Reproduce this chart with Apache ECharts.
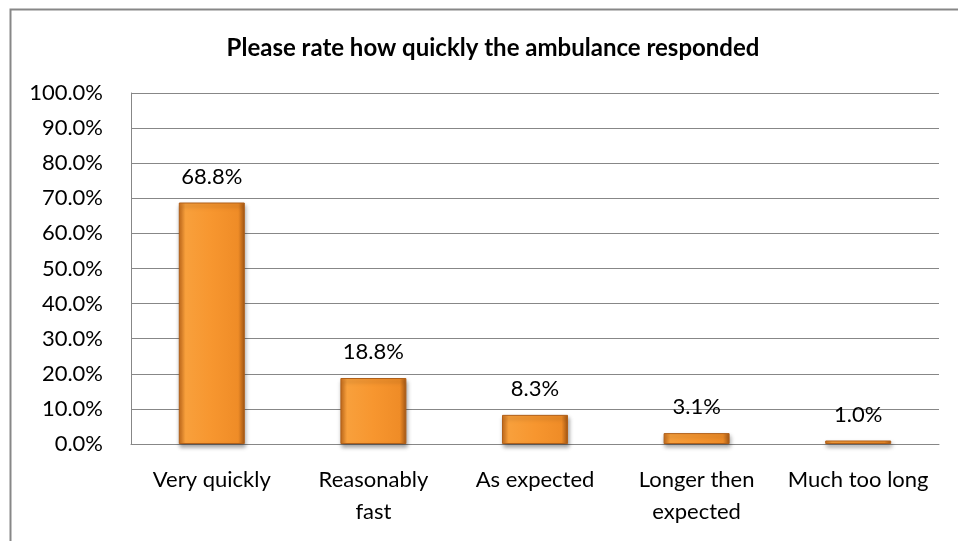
<!DOCTYPE html>
<html>
<head>
<meta charset="utf-8">
<script src="https://cdn.jsdelivr.net/npm/echarts@6/dist/echarts.min.js"></script>
<style>
html,body{margin:0;padding:0;background:#fff;}
#c{width:958px;height:541px;}
</style>
</head>
<body>
<div id="c"></div>
<script>
const titleText = 'Please rate how quickly the ambulance responded';
const categories = ['Very quickly', 'Reasonably\nfast', 'As expected', 'Longer then\nexpected', 'Much too long'];
const values = [68.8, 18.8, 8.3, 3.1, 1.0];
const yMin = 0, yMax = 100, yStep = 10;

const FONT = 'Lato, "Open Sans", sans-serif';
const chart = echarts.init(document.getElementById('c'), null, {renderer: 'canvas'});
chart.setOption({
  animation: false,
  backgroundColor: '#fff',
  graphic: [{
    type: 'rect', left: 8, top: 7,
    shape: {width: 960, height: 540},
    style: {fill: 'none', stroke: '#878787', lineWidth: 2}, silent: true, z: -1
  }],
  title: {
    text: titleText, left: 488, top: 31, textAlign: 'center',
    textStyle: {fontFamily: FONT, fontSize: 24, fontWeight: 'bold', color: '#000'}
  },
  grid: {left: 131, right: 19, top: 93, bottom: 97, containLabel: false},
  xAxis: {
    type: 'category', data: categories,
    axisLine: {lineStyle: {color: '#878787', width: 1}},
    axisTick: {show: false},
    axisLabel: {fontFamily: FONT, fontSize: 22, color: '#000', margin: 20, lineHeight: 32, interval: 0}
  },
  yAxis: {
    type: 'value', min: yMin, max: yMax, interval: yStep,
    axisLine: {show: true, lineStyle: {color: '#878787', width: 1}},
    axisTick: {show: false},
    splitLine: {lineStyle: {color: '#878787', width: 1}},
    axisLabel: {fontFamily: FONT, fontSize: 22, color: '#000', margin: 28,
      formatter: v => v.toFixed(1) + '%'}
  },
  series: [{
    type: 'bar', data: values, barWidth: 66,
    itemStyle: {
      color: new echarts.graphic.LinearGradient(0, 0, 1, 0, [
        {offset: 0, color: '#C96E1C'},
        {offset: 0.1, color: '#F8A03C'},
        {offset: 0.5, color: '#F7962F'},
        {offset: 0.9, color: '#EF8C27'},
        {offset: 1, color: '#A65814'}
      ]),
      borderColor: '#B0601A', borderWidth: 1,
      shadowColor: 'rgba(0,0,0,0.35)', shadowBlur: 4, shadowOffsetY: 3, shadowOffsetX: 1
    },
    label: {show: true, position: 'top', distance: 15, fontFamily: FONT, fontSize: 22, color: '#000',
      formatter: p => p.value.toFixed(1) + '%'}
  }]
});
</script>
</body>
</html>
